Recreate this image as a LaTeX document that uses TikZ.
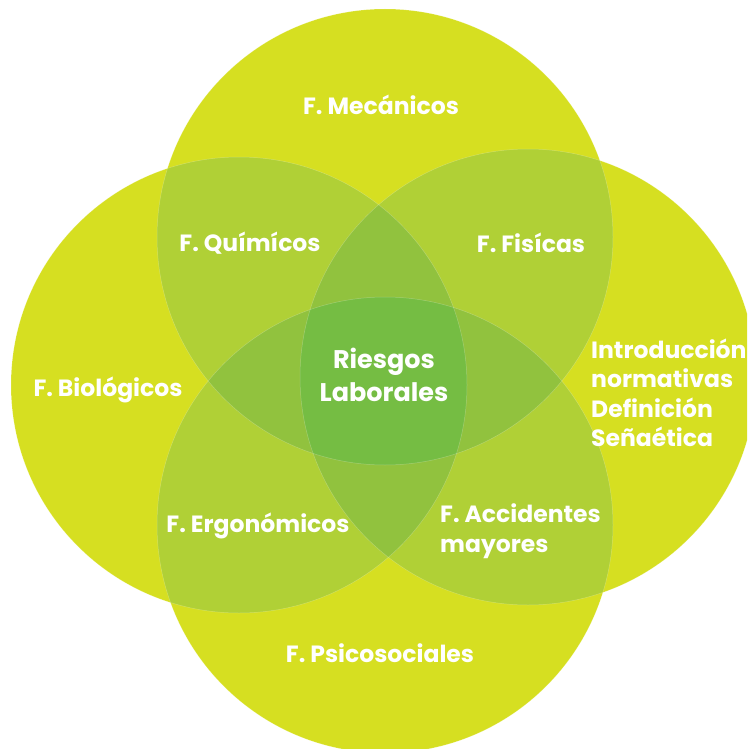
\documentclass[tikz,border=0pt]{standalone}
\usepackage{fontspec}
\setmainfont{Poppins}
\definecolor{venA}{RGB}{214, 223, 33}
\definecolor{venB}{RGB}{176, 208, 54}
\definecolor{venC}{RGB}{145, 194, 62}
\definecolor{venD}{RGB}{117, 189, 67}

\begin{document}
\begin{tikzpicture}[x = 1pt, y = -1pt,
	lbl/.style = {text = white, font = \bfseries\fontsize{23.5}{30}\selectfont, inner sep = 0pt}]
			\useasboundingbox (0,0) rectangle (747,749);
			\clip (0,0) rectangle (747,749);
			\coordinate (T) at (385,237);
			\coordinate (L) at (239,385);
			\coordinate (R) at (528,377);
			\coordinate (B) at (385,525);
			\foreach \c in {T,L,R,B}
				\fill[venA] (\c) circle (228pt);
			\foreach \a/\b in {T/L,T/R,T/B,L/R,L/B,R/B} {
				\begin{scope}
				\clip (\a) circle (228pt);
				\fill[venB] (\b) circle (228pt);
				\end{scope}}
			\foreach \a/\b/\c in {T/L/R,T/L/B,T/R/B,L/R/B} {
				\begin{scope}
				\clip (\a) circle (228pt);
				\clip (\b) circle (228pt);
				\fill[venC] (\c) circle (228pt);
				\end{scope}}
			\begin{scope}
			\clip (T) circle (228pt);
			\clip (L) circle (228pt);
			\clip (R) circle (228pt);
			\fill[venD] (B) circle (228pt);
			\end{scope}
			\foreach \c in {T,L,R,B}
				\draw[white, opacity = 0.25, line width = 0.5pt] (\c) circle (228pt);
			\node (mec) at (381,105) [lbl] {F. Mecánicos};
			\node (qui) at (250,243) [lbl] {F. Químícos};
			\node (fis) at (531,243) [lbl] {F. Fisícas};
			\node (rie) at (384,375) [lbl, align = center, font = \bfseries\fontsize{25.5}{33}\selectfont] {Riesgos\\Laborales};
			\node (bio) at (108,390) [lbl] {F. Biológicos};
			\node (int) at (591,393) [lbl, anchor = west, align = left, font = \bfseries\fontsize{23.5}{29.5}\selectfont] {Introducción\\normativas\\Definición\\Señaética};
			\node (erg) at (258,526) [lbl] {F. Ergonómicos};
			\node (acc) at (440,531) [lbl, anchor = west, align = left] {F. Accidentes\\mayores};
			\node (psi) at (380,653) [lbl] {F. Psicosociales};
			\end{tikzpicture}
\end{document}
